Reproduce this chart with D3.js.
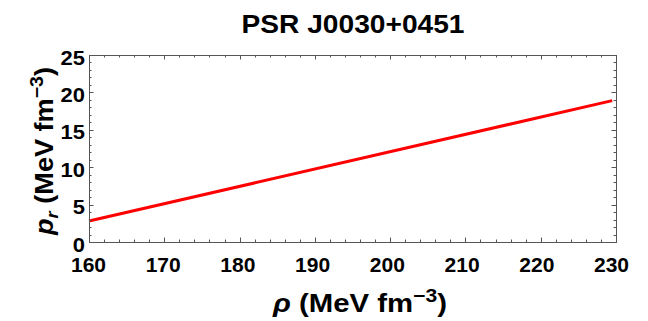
<!DOCTYPE html>
<html><head><meta charset="utf-8">
<script src="https://cdn.jsdelivr.net/npm/d3@7"></script>
<style>body{margin:0;background:#fff}svg{display:block}text{font-family:"Liberation Sans",Arial,sans-serif;font-weight:bold}</style>
</head><body>
<svg id="c" width="648" height="321"></svg>
<script>
const title = "PSR J0030+0451";
const rhoValues = [160, 229.5];
const prValues = [2.8, 18.9];
const xTicks = [160, 170, 180, 190, 200, 210, 220, 230];
const yTicks = [0, 5, 10, 15, 20, 25];

const svg = d3.select("#c");
const m = {l: 89, r: 616, t: 55, b: 242};
const x = d3.scaleLinear().domain([160, 230]).range([m.l, m.r]);
const xLab = d3.scaleLinear().domain([160, 230]).range([m.l - 0.5, 611.5]);
const y = d3.scaleLinear().domain([0, 25]).range([m.b, m.t]);
const frameColor = "#555";

// line
const data = rhoValues.map((v, i) => [v, prValues[i]]);
svg.append("path").datum(data)
  .attr("d", d3.line().x(d => x(d[0])).y(d => y(d[1])))
  .attr("fill", "none").attr("stroke", "#ff0000").attr("stroke-width", 3);

// frame
svg.append("rect").attr("x", m.l + 0.5).attr("y", m.t + 0.5).attr("width", m.r - m.l).attr("height", m.b - m.t)
  .attr("fill", "none").attr("stroke", frameColor).attr("stroke-width", 1);

const xMinor = d3.range(160, 230.01, 2);
const yMinor = d3.range(0, 25.01, 1);
const g = svg.append("g").attr("stroke", frameColor).attr("stroke-width", 1);
xMinor.forEach(v => {
  const major = Math.abs(v % 10) < 1e-6;
  const len = major ? 4.5 : 2.5;
  const px = Math.round(x(v)) + 0.5;
  g.append("line").attr("x1", px).attr("x2", px).attr("y1", m.b).attr("y2", m.b - len);
  g.append("line").attr("x1", px).attr("x2", px).attr("y1", m.t).attr("y2", m.t + len);
});
yMinor.forEach(v => {
  const major = Math.abs(v % 5) < 1e-6;
  const len = major ? 4.5 : 2.5;
  const py = Math.round(y(v)) + 0.5;
  g.append("line").attr("y1", py).attr("y2", py).attr("x1", m.l).attr("x2", m.l + len);
  g.append("line").attr("y1", py).attr("y2", py).attr("x1", m.r).attr("x2", m.r - len);
});

// tick labels
svg.selectAll(".xt").data(xTicks).enter().append("text")
  .attr("x", d => xLab(d)).attr("y", 271.5).attr("text-anchor", "middle")
  .attr("font-size", 20).attr("fill", "#000")
  .attr("textLength", d => String(d).length * 11.7).attr("lengthAdjust", "spacingAndGlyphs")
  .text(d => d);
svg.selectAll(".yt").data(yTicks).enter().append("text")
  .attr("x", 85).attr("y", d => y(d) + 9.5).attr("text-anchor", "end")
  .attr("font-size", 20).attr("fill", "#000")
  .attr("textLength", d => String(d).length * 12.2).attr("lengthAdjust", "spacingAndGlyphs")
  .text(d => d);

// title
svg.append("text").attr("x", 353).attr("y", 33).attr("text-anchor", "middle")
  .attr("font-size", 25).attr("fill", "#000")
  .attr("textLength", 223).attr("lengthAdjust", "spacingAndGlyphs").text(title);

// x label
const xl = svg.append("text").attr("x", 360).attr("y", 312).attr("text-anchor", "middle")
  .attr("font-size", 25).attr("fill", "#000")
  .attr("textLength", 174).attr("lengthAdjust", "spacingAndGlyphs");
xl.append("tspan").attr("font-style", "italic").text("ρ");
xl.append("tspan").text(" (MeV fm");
xl.append("tspan").attr("dy", -10).attr("font-size", 18).text("−3");
xl.append("tspan").attr("dy", 10).text(")");

// y label
const yl = svg.append("text").attr("transform", "translate(53,151) rotate(-90)").attr("text-anchor", "middle")
  .attr("font-size", 25).attr("fill", "#000")
  .attr("textLength", 168).attr("lengthAdjust", "spacingAndGlyphs");
yl.append("tspan").attr("font-style", "italic").text("p");
yl.append("tspan").attr("font-style", "italic").attr("font-size", 17).attr("dy", 5).text("r");
yl.append("tspan").attr("dy", -5).text(" (MeV fm");
yl.append("tspan").attr("dy", -10).attr("font-size", 18).text("−3");
yl.append("tspan").attr("dy", 10).text(")");
</script>
</body></html>
